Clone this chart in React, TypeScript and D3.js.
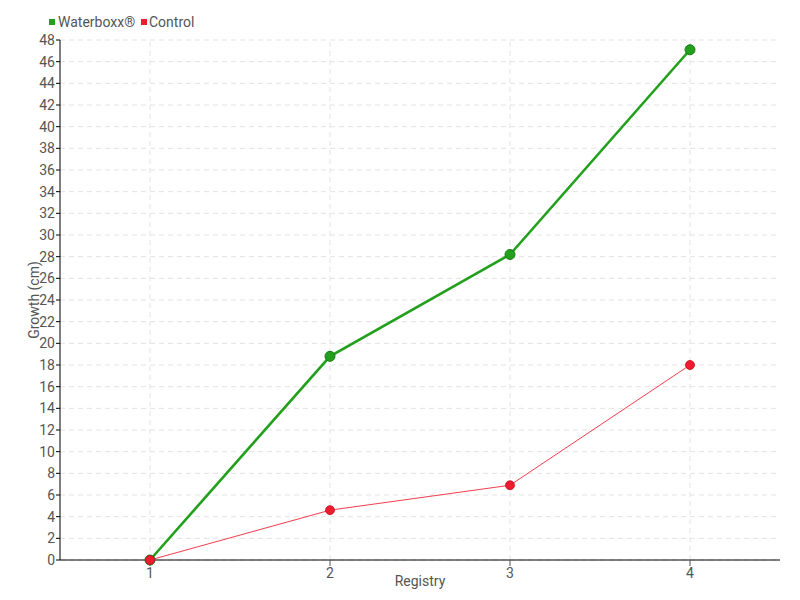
import React from "react";
import * as d3 from "d3";

const categories = [1, 2, 3, 4];
const waterboxx = [0, 18.8, 28.2, 47.1];
const control = [0, 4.6, 6.9, 18.0];
const yTicks = d3.range(0, 50, 2);

const W = 800, H = 600;
const m = { left: 60, right: 20, top: 40, bottom: 40 };
const font = "Roboto, sans-serif";

export default function App() {
  const x = d3.scaleLinear().domain([0.5, 4.5]).range([m.left, W - m.right]);
  const y = d3.scaleLinear().domain([0, 48]).range([H - m.bottom, m.top]);
  const line = d3.line<number>().x((_, i) => x(categories[i])).y((d) => y(d));
  const gColor = "#22a01c";
  const rColor = "#ee1c2e";
  return (
    <svg width={W} height={H} style={{ position: "absolute", left: 0, top: 0 }} fontFamily={font}>
      <rect width={W} height={H} fill="#fff" />
      {yTicks.map((t) => (
        <line key={"gy" + t} x1={x(0.5)} x2={x(4.5)} y1={y(t)} y2={y(t)} stroke="#e3e3e3" strokeDasharray="5,4" />
      ))}
      {categories.map((c) => (
        <line key={"gx" + c} x1={x(c)} x2={x(c)} y1={y(0)} y2={y(48)} stroke="#e3e3e3" strokeDasharray="5,4" />
      ))}
      <line x1={x(0.5)} x2={x(4.5)} y1={y(0)} y2={y(0)} stroke="#000" />
      <line x1={x(0.5)} x2={x(0.5)} y1={y(0)} y2={y(48)} stroke="#000" />
      {yTicks.map((t) => (
        <g key={"ty" + t}>
          <line x1={x(0.5) - 4} x2={x(0.5)} y1={y(t)} y2={y(t)} stroke="#000" />
          <text x={x(0.5) - 5} y={y(t)} dy="0.35em" textAnchor="end" fontSize={14} fill="#555">{t}</text>
        </g>
      ))}
      {categories.map((c) => (
        <g key={"tx" + c}>
          <line x1={x(c)} x2={x(c)} y1={y(0)} y2={y(0) + 6} stroke="#555" />
          <text x={x(c)} y={y(0) + 13} dy="0.35em" textAnchor="middle" fontSize={14} fill="#555">{c}</text>
        </g>
      ))}
      <text x={420} y={586} textAnchor="middle" fontSize={14} fill="#555">Registry</text>
      <text transform={`translate(39,${y(24)}) rotate(-90)`} textAnchor="middle" fontSize={14} fill="#555">Growth (cm)</text>
      <path d={line(control) || ""} fill="none" stroke={rColor} strokeWidth={1} strokeOpacity={0.85} />
      <path d={line(waterboxx) || ""} fill="none" stroke={gColor} strokeWidth={2.6} />
      {waterboxx.map((v, i) => (
        <circle key={"wp" + i} cx={x(categories[i])} cy={y(v)} r={5} fill={gColor} stroke="#1a7a16" strokeWidth={1} />
      ))}
      {control.map((v, i) => (
        <circle key={"cp" + i} cx={x(categories[i])} cy={y(v)} r={4.5} fill={rColor} stroke="#c01020" strokeWidth={0.8} />
      ))}
      <rect x={49} y={19} width={6} height={6} fill={gColor} />
      <text x={58} y={22} dy="0.35em" fontSize={14} fill="#555">Waterboxx®</text>
      <rect x={141} y={19} width={6} height={6} fill={rColor} />
      <text x={149} y={22} dy="0.35em" fontSize={14} fill="#555">Control</text>
    </svg>
  );
}
